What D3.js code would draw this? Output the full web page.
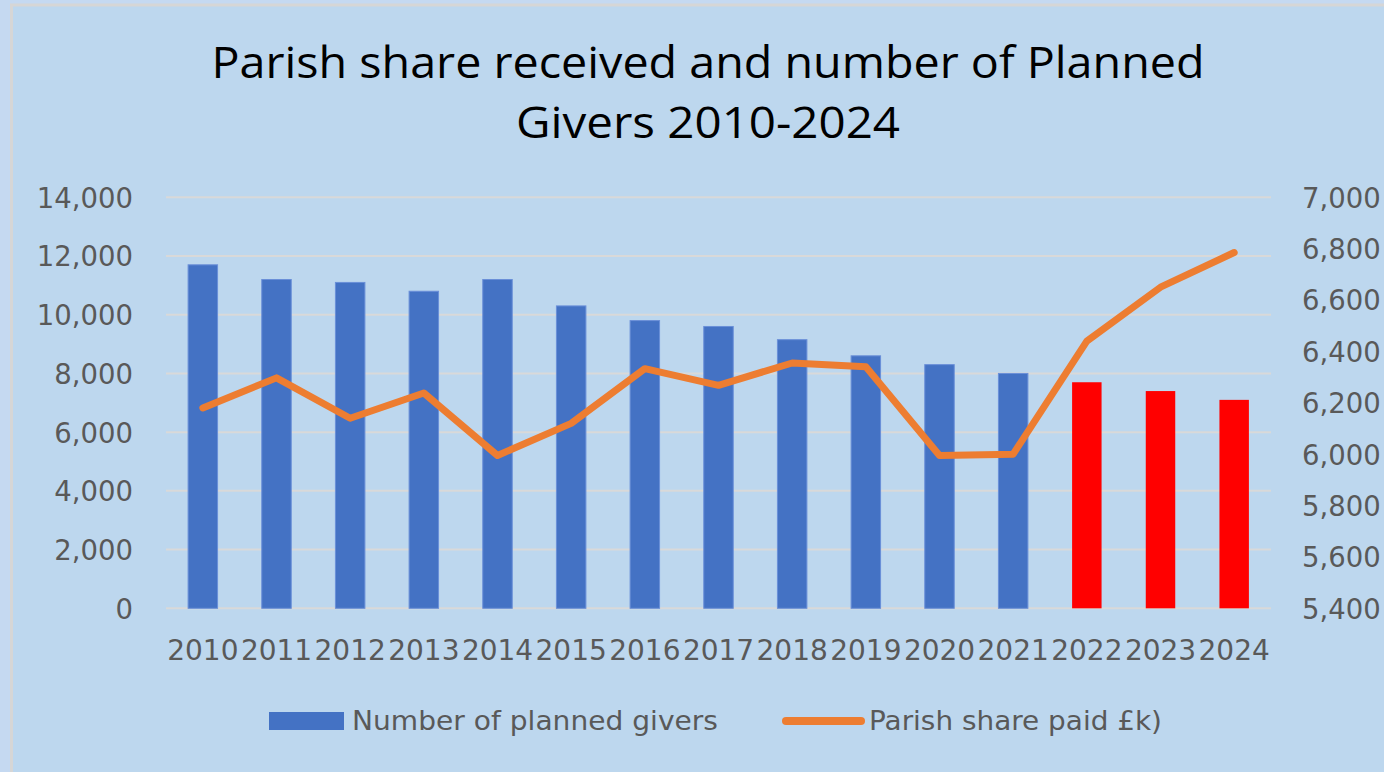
<!DOCTYPE html>
<html>
<head>
<meta charset="utf-8">
<script src="https://cdn.jsdelivr.net/npm/d3@7"></script>
<style>
html,body{margin:0;padding:0;background:#C5D9F1;}
svg{display:block;}
</style>
</head>
<body>
<svg id="chart" width="1384" height="772"></svg>
<script>
const years = ["2010","2011","2012","2013","2014","2015","2016","2017","2018","2019","2020","2021","2022","2023","2024"];
const givers = [11700,11200,11100,10800,11200,10300,9800,9600,9150,8600,8300,8000,7700,7400,7100];
const parishShare = [6180,6297,6140,6238,5995,6120,6333,6268,6355,6340,5995,6000,6440,6650,6785];
const highlightYears = ["2022","2023","2024"];
const leftTicks = [0,2000,4000,6000,8000,10000,12000,14000];
const rightTicks = [5400,5600,5800,6000,6200,6400,6600,6800,7000];
const titleLines = ["Parish share received and number of Planned","Givers 2010-2024"];
const legendLabels = ["Number of planned givers","Parish share paid £k)"];

const svg = d3.select("#chart");
const W = 1384, H = 772;
svg.append("rect").attr("x",0).attr("y",0).attr("width",W).attr("height",H).attr("fill","#C5D9F1");
svg.append("rect").attr("x",11.5).attr("y",5).attr("width",W+20).attr("height",H+20)
  .attr("fill","#BDD7EE").attr("stroke","#D6D6D6").attr("stroke-width",3);

const plot = {left:166, right:1271, top:197.3, bottom:608.3};
const x = d3.scaleBand().domain(years).range([plot.left, plot.right]).paddingInner(0.6).paddingOuter(0.3);
const yL = d3.scaleLinear().domain([0,14000]).range([plot.bottom, plot.top]);
const yR = d3.scaleLinear().domain([5400,7000]).range([plot.bottom, plot.top]);

svg.append("g").selectAll("line").data(leftTicks).join("line")
  .attr("x1",plot.left).attr("x2",plot.right)
  .attr("y1",d=>yL(d)).attr("y2",d=>yL(d))
  .attr("stroke","#D9D9D9").attr("stroke-width",2);

const fontAxis = "'DejaVu Sans', Verdana, sans-serif";
const axL = d3.axisLeft(yL).tickValues(leftTicks).tickFormat(d3.format(",")).tickSize(0).tickPadding(0);
const gL = svg.append("g").attr("transform",`translate(133,0)`).call(axL);
gL.select(".domain").remove();
gL.selectAll("text").attr("font-family",fontAxis).attr("font-size",27.5).attr("fill","#595959").attr("dy","0.36em");

const axR = d3.axisRight(yR).tickValues(rightTicks).tickFormat(d3.format(",")).tickSize(0).tickPadding(0);
const gR = svg.append("g").attr("transform",`translate(1302,0)`).call(axR);
gR.select(".domain").remove();
gR.selectAll("text").attr("font-family",fontAxis).attr("font-size",27.5).attr("fill","#595959").attr("dy","0.36em");

const axB = d3.axisBottom(x).tickSize(0).tickPadding(0);
const gB = svg.append("g").attr("transform",`translate(0,650)`).call(axB);
gB.select(".domain").remove();
gB.selectAll("text").attr("font-family",fontAxis).attr("font-size",28).attr("fill","#595959").attr("dy","0.36em");

svg.append("g").selectAll("rect").data(years.map((y,i)=>({y, v:givers[i]}))).join("rect")
  .attr("x",d=>x(d.y)).attr("width",x.bandwidth())
  .attr("y",d=>yL(d.v)).attr("height",d=>plot.bottom - yL(d.v))
  .attr("fill",d=>highlightYears.includes(d.y)?"#FF0000":"#4472C4")
  .attr("stroke",d=>highlightYears.includes(d.y)?"none":"#6A8FD8").attr("stroke-width",1);

const line = d3.line().x((d,i)=>x(years[i])+x.bandwidth()/2).y(d=>yR(d));
svg.append("path").datum(parishShare).attr("d",line)
  .attr("fill","none").attr("stroke","#ED7D31").attr("stroke-width",7)
  .attr("stroke-linecap","round").attr("stroke-linejoin","round");

const titleFont = "'Open Sans', 'Noto Sans', sans-serif";
const titleWidths = [993, 384];
const t = svg.append("text").attr("text-anchor","middle").attr("font-family",titleFont)
  .attr("font-size",44).attr("fill","#000");
t.selectAll("tspan").data(titleLines).join("tspan")
  .attr("x",708).attr("y",(d,i)=>78+i*60)
  .attr("textLength",(d,i)=>titleWidths[i]).attr("lengthAdjust","spacingAndGlyphs")
  .text(d=>d);

const lg = svg.append("g");
lg.append("rect").attr("x",269).attr("y",712).attr("width",75).attr("height",18).attr("fill","#4472C4");
lg.append("text").attr("x",352).attr("y",729.5).attr("font-family",fontAxis).attr("font-size",27)
  .attr("textLength",366).attr("lengthAdjust","spacingAndGlyphs")
  .attr("fill","#595959").text(legendLabels[0]);
lg.append("line").attr("x1",786).attr("x2",861).attr("y1",721).attr("y2",721)
  .attr("stroke","#ED7D31").attr("stroke-width",8).attr("stroke-linecap","round");
lg.append("text").attr("x",869).attr("y",729.5).attr("font-family",fontAxis).attr("font-size",27)
  .attr("textLength",293).attr("lengthAdjust","spacingAndGlyphs")
  .attr("fill","#595959").text(legendLabels[1]);
</script>
</body>
</html>
